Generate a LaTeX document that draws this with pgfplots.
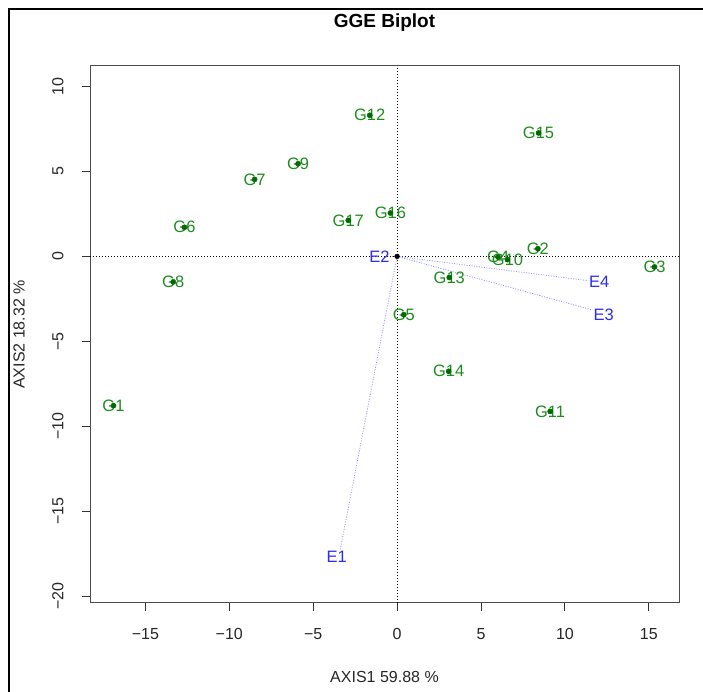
\documentclass[border=0pt]{standalone}
\usepackage{fontspec}
\setmainfont{Liberation Sans}
\usepackage{pgfplots}
\usepackage{pgfplotstable}
\pgfplotsset{compat=1.18}

\definecolor{gencol}{RGB}{30,140,30}
\definecolor{gendot}{RGB}{0,105,0}
\definecolor{envcol}{RGB}{45,45,240}
\definecolor{veccol}{RGB}{150,150,255}

% genotype scores (AXIS1, AXIS2)
\pgfplotstableread{
x y name
-16.90 -8.78 G1
8.39 0.45 G2
15.34 -0.62 G3
6.02 -0.04 G4
0.40 -3.43 G5
-12.67 1.71 G6
-8.49 4.53 G7
-13.34 -1.50 G8
-5.90 5.45 G9
6.58 -0.19 G10
9.12 -9.12 G11
-1.63 8.30 G12
3.11 -1.24 G13
3.07 -6.76 G14
8.43 7.26 G15
-0.40 2.55 G16
-2.91 2.12 G17
}\gen

% environment labels
\pgfplotstableread{
x y name
-3.60 -17.70 E1
-1.05 0.00 E2
12.32 -3.43 E3
12.04 -1.47 E4
}\env

\begin{document}
\begin{tikzpicture}
\useasboundingbox (0,0) rectangle (703bp,692bp);
\draw[line width=1.5bp] (9bp,0) -- (9bp,683bp) -- (703bp,683bp);

\begin{axis}[
    at={(90bp,89bp)}, anchor=south west,
    scale only axis, width=589bp, height=537bp,
    xmin=-18.3, xmax=16.8, ymin=-20.39, ymax=11.2,
    clip=false,
    axis line style={black!70, line width=1bp},
    tick style={black!80, line width=0.9bp},
    tick align=outside, major tick length=8bp,
    xtick pos=left, ytick pos=left,
    xtick={-15,-10,-5,0,5,10,15},
    xticklabels={−15,−10,−5,0,5,10,15},
    ytick={-20,-15,-10,-5,0,5,10},
    yticklabels={−20,−15,−10,−5,0,5,10},
    ticklabel style={font=\fontsize{16bp}{19bp}\selectfont, text=black!85},
    xticklabel style={anchor=north, yshift=-14bp},
    yticklabel style={rotate=90, anchor=south, yshift=15bp},
  ]

  % reference lines through the origin
  \addplot[black, line width=0.8bp, dash pattern=on 1bp off 2bp] coordinates {(-18.3,0) (16.8,0)};
  \addplot[black, line width=0.8bp, dash pattern=on 1bp off 2bp] coordinates {(0,-20.39) (0,11.2)};

  % environment vectors
  \addplot[veccol, line width=0.8bp, dash pattern=on 1bp off 1.5bp] coordinates {(0,0) (-3.40,-17.30)};
  \addplot[veccol, line width=0.8bp, dash pattern=on 1bp off 1.5bp] coordinates {(0,0) (-0.30,0.00)};
  \addplot[veccol, line width=0.8bp, dash pattern=on 1bp off 1.5bp] coordinates {(0,0) (11.60,-3.14)};
  \addplot[veccol, line width=0.8bp, dash pattern=on 1bp off 1.5bp] coordinates {(0,0) (11.40,-1.43)};

  \addplot[black, only marks, mark=*, mark size=2.4bp] coordinates {(0,0)};

  % environment labels
  \addplot[draw=none, mark=none, nodes near coords, point meta=explicit symbolic,
    every node near coord/.style={anchor=center, inner sep=0pt, text=envcol,
      font=\fontsize{16.5bp}{19bp}\selectfont}]
    table[x=x, y=y, meta=name] {\env};

  % genotype labels and points
  \addplot[draw=none, mark=none, nodes near coords, point meta=explicit symbolic,
    every node near coord/.style={anchor=center, inner sep=0pt, text=gencol,
      font=\fontsize{16.5bp}{19bp}\selectfont}]
    table[x=x, y=y, meta=name] {\gen};
  \addplot[gendot, only marks, mark=*, mark size=2.6bp] table[x=x, y=y] {\gen};
\end{axis}

\node[font=\fontsize{19bp}{22bp}\selectfont\bfseries] at (384.5bp,669bp) {GGE Biplot};
\node[font=\fontsize{16bp}{19bp}\selectfont, text=black!85] at (384.5bp,15bp) {AXIS1 59.88 \%};
\node[font=\fontsize{16bp}{19bp}\selectfont, text=black!85, rotate=90] at (19bp,357.5bp) {AXIS2 18.32 \%};
\end{tikzpicture}
\end{document}
